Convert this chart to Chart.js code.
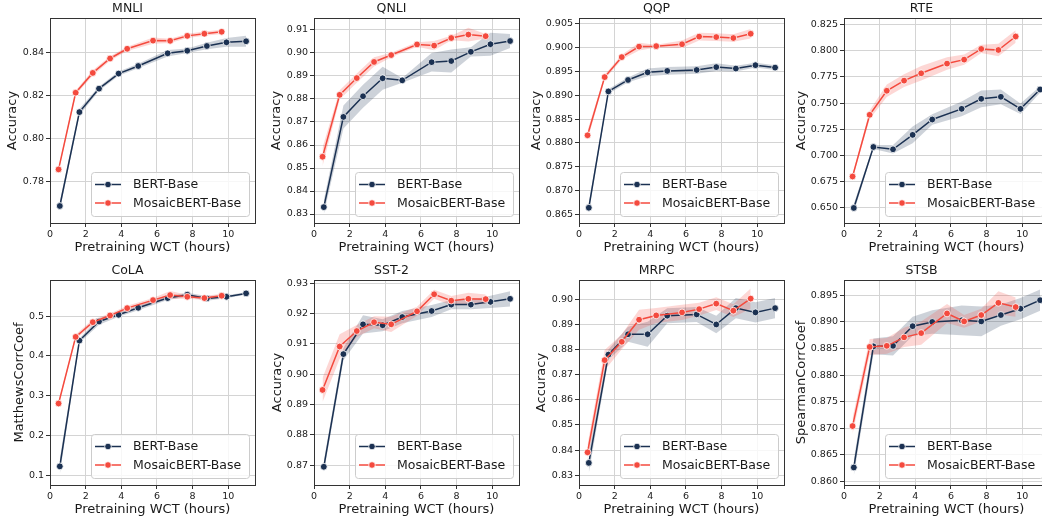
<!DOCTYPE html>
<html>
<head>
<meta charset="utf-8">
<script src="https://cdn.jsdelivr.net/npm/chart.js@4.4.1/dist/chart.umd.min.js"></script>
<style>
  html, body { margin: 0; padding: 0; background: #fff; overflow: hidden; }
  body { width: 1042px; height: 518px; position: relative; }
  canvas { position: absolute; }
</style>
</head>
<body>
<canvas id="mnli" width="262" height="255" style="left:0px;top:0px"></canvas>
<canvas id="qnli" width="262" height="255" style="left:264px;top:0px"></canvas>
<canvas id="qqp" width="262" height="255" style="left:529px;top:0px"></canvas>
<canvas id="rte" width="262" height="255" style="left:794px;top:0px"></canvas>
<canvas id="cola" width="262" height="255" style="left:0px;top:262px"></canvas>
<canvas id="sst2" width="262" height="255" style="left:264px;top:262px"></canvas>
<canvas id="mrpc" width="262" height="255" style="left:529px;top:262px"></canvas>
<canvas id="stsb" width="262" height="255" style="left:794px;top:262px"></canvas>
<script>
// x positions (pretraining wall clock hours)
const bertHours = [0.55, 1.65, 2.75, 3.85, 4.95, 6.6, 7.7, 8.8, 9.9, 11.0];
const mosaicHours = [0.48, 1.44, 2.4, 3.37, 4.33, 5.78, 6.74, 7.7, 8.66, 9.63];
const xTicks = [0, 2, 4, 6, 8, 10];
const seriesNames = ['BERT-Base', 'MosaicBERT-Base'];

// MNLI
const mnliBert = [0.7687, 0.8123, 0.8232, 0.8302, 0.8337, 0.8396, 0.8408, 0.8430, 0.8447, 0.8452];
const mnliBertErr = [0.002, 0.0015, 0.001, 0.001, 0.001, 0.0015, 0.001, 0.0015, 0.002, 0.0025];
const mnliMosaic = [0.7857, 0.8213, 0.8305, 0.8372, 0.8417, 0.8455, 0.8454, 0.8477, 0.8487, 0.8496];
const mnliMosaicErr = [0.001, 0.001, 0.0012, 0.001, 0.001, 0.0015, 0.001, 0.001, 0.001, 0.001];
const mnliTicks = [0.78, 0.80, 0.82, 0.84];
const mnliRange = [0.7608, 0.856];

// QNLI
const qnliBert = [0.8330, 0.8722, 0.8812, 0.8890, 0.8881, 0.8960, 0.8965, 0.9005, 0.9038, 0.9052];
const qnliBertErr = [0.003, 0.005, 0.005, 0.005, 0.001, 0.004, 0.005, 0.002, 0.005, 0.003];
const qnliMosaic = [0.8549, 0.8818, 0.8891, 0.8961, 0.8991, 0.9037, 0.9032, 0.9065, 0.9080, 0.9073];
const qnliMosaicErr = [0.004, 0.002, 0.002, 0.002, 0.001, 0.001, 0.002, 0.001, 0.003, 0.001];
const qnliTicks = [0.83, 0.84, 0.85, 0.86, 0.87, 0.88, 0.89, 0.90, 0.91];
const qnliRange = [0.8261, 0.9152];

// QQP
const qqpBert = [0.8664, 0.8908, 0.8932, 0.8948, 0.8951, 0.8953, 0.8959, 0.8956, 0.8963, 0.8958];
const qqpBertErr = [0.001, 0.0005, 0.0005, 0.0008, 0.0008, 0.0008, 0.0008, 0.0006, 0.0005, 0.0005];
const qqpMosaic = [0.8816, 0.8938, 0.8980, 0.9002, 0.9003, 0.9007, 0.9023, 0.9022, 0.9020, 0.9029];
const qqpMosaicErr = [0.001, 0.0005, 0.0005, 0.0008, 0.0003, 0.0008, 0.0008, 0.0008, 0.0008, 0.001];
const qqpTicks = [0.865, 0.870, 0.875, 0.880, 0.885, 0.890, 0.895, 0.900, 0.905];
const qqpRange = [0.8632, 0.9062];

// RTE
const rteBert = [0.6497, 0.7080, 0.7058, 0.7196, 0.7343, 0.7445, 0.7541, 0.7560, 0.7445, 0.7630];
const rteBertErr = [0.004, 0.002, 0.004, 0.008, 0.005, 0.007, 0.008, 0.007, 0.005, 0.003];
const rteMosaic = [0.6798, 0.7388, 0.7618, 0.7715, 0.7785, 0.7878, 0.7916, 0.8018, 0.8008, 0.8137];
const rteMosaicErr = [0.002, 0.004, 0.006, 0.006, 0.007, 0.006, 0.005, 0.004, 0.006, 0.006];
const rteTicks = [0.650, 0.675, 0.700, 0.725, 0.750, 0.775, 0.800, 0.825];
const rteRange = [0.6353, 0.8314];

// CoLA
const colaBert = [0.1219, 0.4385, 0.4865, 0.5034, 0.5210, 0.5455, 0.5540, 0.5446, 0.5488, 0.5573];
const colaBertErr = [0.02, 0.006, 0.008, 0.005, 0.006, 0.005, 0.005, 0.006, 0.004, 0.003];
const colaMosaic = [0.2802, 0.4478, 0.4848, 0.5017, 0.5202, 0.5404, 0.5531, 0.5488, 0.5455, 0.5514];
const colaMosaicErr = [0.005, 0.006, 0.007, 0.005, 0.006, 0.005, 0.01, 0.005, 0.005, 0.005];
const colaTicks = [0.1, 0.2, 0.3, 0.4, 0.5];
const colaRange = [0.075, 0.591];

// SST-2
const sst2Bert = [0.8695, 0.9066, 0.9164, 0.9161, 0.9188, 0.9208, 0.9229, 0.9229, 0.9238, 0.9248];
const sst2BertErr = [0.002, 0.002, 0.003, 0.002, 0.002, 0.002, 0.0015, 0.0015, 0.002, 0.0025];
const sst2Mosaic = [0.8948, 0.9091, 0.9142, 0.9171, 0.9164, 0.9207, 0.9263, 0.9242, 0.9248, 0.9247];
const sst2MosaicErr = [0.004, 0.004, 0.002, 0.002, 0.0025, 0.0015, 0.0015, 0.0015, 0.002, 0.0015];
const sst2Ticks = [0.87, 0.88, 0.89, 0.90, 0.91, 0.92, 0.93];
const sst2Range = [0.8635, 0.931];

// MRPC
const mrpcBert = [0.8349, 0.8780, 0.8861, 0.8861, 0.8935, 0.8940, 0.8900, 0.8965, 0.8948, 0.8965];
const mrpcBertErr = [0.004, 0.002, 0.003, 0.005, 0.003, 0.003, 0.0035, 0.004, 0.004, 0.004];
const mrpcMosaic = [0.8391, 0.8758, 0.8831, 0.8919, 0.8936, 0.8948, 0.8961, 0.8983, 0.8955, 0.9003];
const mrpcMosaicErr = [0.003, 0.004, 0.003, 0.004, 0.003, 0.003, 0.0025, 0.0025, 0.0025, 0.004];
const mrpcTicks = [0.83, 0.84, 0.85, 0.86, 0.87, 0.88, 0.89, 0.90];
const mrpcRange = [0.8261, 0.9077];

// STSB
const stsbBert = [0.8626, 0.8854, 0.8855, 0.8892, 0.8900, 0.8903, 0.8901, 0.8913, 0.8925, 0.8941];
const stsbBertErr = [0.0015, 0.0015, 0.0018, 0.0018, 0.0022, 0.0028, 0.0028, 0.002, 0.002, 0.002];
const stsbMosaic = [0.8704, 0.8853, 0.8855, 0.8871, 0.8879, 0.8916, 0.8901, 0.8913, 0.8936, 0.8928];
const stsbMosaicErr = [0.0015, 0.0015, 0.0015, 0.0018, 0.0022, 0.0018, 0.0012, 0.0012, 0.0022, 0.0018];
const stsbTicks = [0.860, 0.865, 0.870, 0.875, 0.880, 0.885, 0.890, 0.895];
const stsbRange = [0.8593, 0.8979];

const bertColor = '#1b3152';
const mosaicColor = '#f44a3e';
const bertBand = 'rgba(27, 49, 82, 0.22)';
const mosaicBand = 'rgba(244, 74, 62, 0.22)';
const gridColor = '#d4d4d4';
const textColor = '#1a1a1a';
const family = '"DejaVu Sans", sans-serif';

Chart.defaults.font.family = family;
Chart.defaults.color = textColor;

const panels = [
  { id: 'mnli', title: 'MNLI', yLabel: 'Accuracy', bert: mnliBert, bertErr: mnliBertErr, mosaic: mnliMosaic, mosaicErr: mnliMosaicErr, ticks: mnliTicks, range: mnliRange, dec: 2, labelPad: 5 },
  { id: 'qnli', title: 'QNLI', yLabel: 'Accuracy', bert: qnliBert, bertErr: qnliBertErr, mosaic: qnliMosaic, mosaicErr: qnliMosaicErr, ticks: qnliTicks, range: qnliRange, dec: 2, labelPad: 5 },
  { id: 'qqp', title: 'QQP', yLabel: 'Accuracy', bert: qqpBert, bertErr: qqpBertErr, mosaic: qqpMosaic, mosaicErr: qqpMosaicErr, ticks: qqpTicks, range: qqpRange, dec: 3, labelPad: 0 },
  { id: 'rte', title: 'RTE', yLabel: 'Accuracy', bert: rteBert, bertErr: rteBertErr, mosaic: rteMosaic, mosaicErr: rteMosaicErr, ticks: rteTicks, range: rteRange, dec: 3, labelPad: 0 },
  { id: 'cola', title: 'CoLA', yLabel: 'MatthewsCorrCoef', bert: colaBert, bertErr: colaBertErr, mosaic: colaMosaic, mosaicErr: colaMosaicErr, ticks: colaTicks, range: colaRange, dec: 1, labelPad: 12 },
  { id: 'sst2', title: 'SST-2', yLabel: 'Accuracy', bert: sst2Bert, bertErr: sst2BertErr, mosaic: sst2Mosaic, mosaicErr: sst2MosaicErr, ticks: sst2Ticks, range: sst2Range, dec: 2, labelPad: 6 },
  { id: 'mrpc', title: 'MRPC', yLabel: 'Accuracy', bert: mrpcBert, bertErr: mrpcBertErr, mosaic: mrpcMosaic, mosaicErr: mrpcMosaicErr, ticks: mrpcTicks, range: mrpcRange, dec: 2, labelPad: 5 },
  { id: 'stsb', title: 'STSB', yLabel: 'SpearmanCorrCoef', bert: stsbBert, bertErr: stsbBertErr, mosaic: stsbMosaic, mosaicErr: stsbMosaicErr, ticks: stsbTicks, range: stsbRange, dec: 3, labelPad: 0 }
];

function points(xs, ys, errs, sign) {
  return xs.map((x, i) => ({ x: x, y: ys[i] + sign * (errs ? errs[i] : 0) }));
}

// matplotlib style frame around the plot area
const frame = {
  id: 'frame',
  afterDatasetsDraw(chart) {
    const a = chart.chartArea, ctx = chart.ctx;
    ctx.save();
    ctx.strokeStyle = '#333';
    ctx.lineWidth = 1;
    ctx.strokeRect(Math.round(a.left) + 0.5, Math.round(a.top) + 0.5, Math.round(a.right - a.left), Math.round(a.bottom - a.top));
    ctx.restore();
  }
};

// legend box in the lower right corner of the plot
const boxLegend = {
  id: 'boxLegend',
  afterDraw(chart) {
    const ctx = chart.ctx, a = chart.chartArea;
    const w = 158, h = 44;
    const x = Math.round(a.right - 6 - w), y = Math.round(a.bottom - 7 - h);
    ctx.save();
    ctx.beginPath();
    ctx.roundRect(x + 0.5, y + 0.5, w, h, 3);
    ctx.fillStyle = 'rgba(255,255,255,0.8)';
    ctx.fill();
    ctx.strokeStyle = '#cccccc';
    ctx.lineWidth = 1;
    ctx.stroke();
    seriesNames.forEach((name, i) => {
      const cy = y + 12.5 + i * 18.5;
      const color = i === 0 ? bertColor : mosaicColor;
      ctx.strokeStyle = color;
      ctx.lineWidth = 1.5;
      ctx.beginPath();
      ctx.moveTo(x + 4, cy);
      ctx.lineTo(x + 30, cy);
      ctx.stroke();
      ctx.beginPath();
      ctx.arc(x + 17, cy, 3.3, 0, Math.PI * 2);
      ctx.fillStyle = color;
      ctx.fill();
      ctx.strokeStyle = '#fff';
      ctx.lineWidth = 0.8;
      ctx.stroke();
      ctx.fillStyle = textColor;
      ctx.font = '12.5px ' + family;
      ctx.textBaseline = 'middle';
      ctx.fillText(name, x + 42, cy + 0.5);
    });
    ctx.restore();
  }
};

panels.forEach(p => {
  const ctx = document.getElementById(p.id).getContext('2d');
  new Chart(ctx, {
    type: 'line',
    data: {
      datasets: [
        { data: points(mosaicHours, p.mosaic, null, 0), borderColor: mosaicColor, backgroundColor: mosaicColor,
          pointBackgroundColor: mosaicColor, pointBorderColor: '#fff', pointBorderWidth: 0.8, pointRadius: 3.4,
          borderWidth: 1.5, fill: false, tension: 0 },
        { data: points(bertHours, p.bert, null, 0), borderColor: bertColor, backgroundColor: bertColor,
          pointBackgroundColor: bertColor, pointBorderColor: '#fff', pointBorderWidth: 0.8, pointRadius: 3.4,
          borderWidth: 1.5, fill: false, tension: 0 },
        { data: points(mosaicHours, p.mosaic, p.mosaicErr, -1), borderWidth: 0, pointRadius: 0, fill: false },
        { data: points(mosaicHours, p.mosaic, p.mosaicErr, 1), borderWidth: 0, pointRadius: 0, fill: 2, backgroundColor: mosaicBand },
        { data: points(bertHours, p.bert, p.bertErr, -1), borderWidth: 0, pointRadius: 0, fill: false },
        { data: points(bertHours, p.bert, p.bertErr, 1), borderWidth: 0, pointRadius: 0, fill: 4, backgroundColor: bertBand }
      ]
    },
    options: {
      responsive: false,
      animation: false,
      layout: { padding: { left: 0, right: 7, top: 0, bottom: 0 } },
      plugins: {
        legend: { display: false },
        tooltip: { enabled: false },
        title: { display: true, text: p.title, font: { size: 12.5, weight: 'normal' }, color: textColor, padding: { top: 1, bottom: 2 } }
      },
      scales: {
        x: {
          type: 'linear', min: 0, max: 11.5,
          afterBuildTicks: s => { s.ticks = xTicks.map(v => ({ value: v })); },
          afterFit: s => { s.height = 32; },
          grid: { color: gridColor, tickColor: '#333', tickLength: 4 },
          border: { display: false },
          ticks: { font: { size: 9.5 }, color: textColor, padding: 2, maxRotation: 0, autoSkip: false },
          title: { display: true, text: 'Pretraining WCT (hours)', font: { size: 13 }, color: textColor, padding: { top: 0, bottom: 0 } }
        },
        y: {
          min: p.range[0], max: p.range[1],
          afterBuildTicks: s => { s.ticks = p.ticks.map(v => ({ value: v })); },
          afterFit: s => { s.width = 50; },
          grid: { color: gridColor, tickColor: '#333', tickLength: 4 },
          border: { display: false },
          ticks: { font: { size: 9.5 }, color: textColor, padding: 2, autoSkip: false, callback: v => v.toFixed(p.dec) },
          title: { display: true, text: p.yLabel, font: { size: 13 }, color: textColor, padding: { top: p.labelPad, bottom: 0 } }
        }
      }
    },
    plugins: [frame, boxLegend]
  });
});
</script>
</body>
</html>
